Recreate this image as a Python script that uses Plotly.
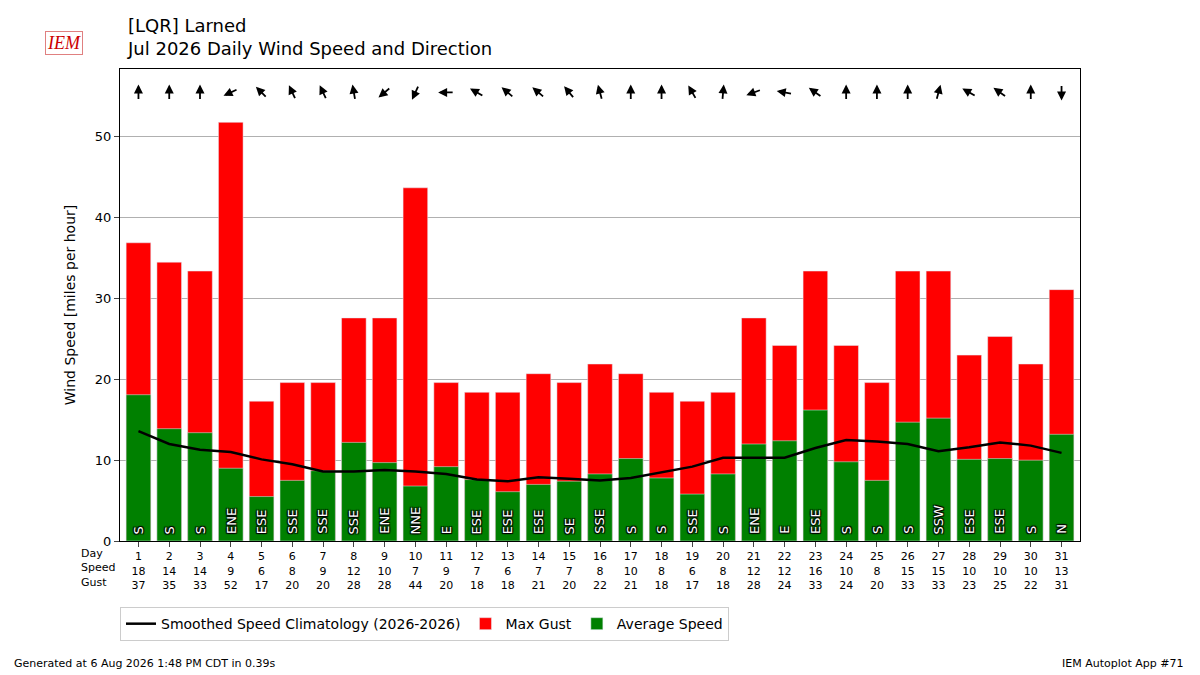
import math
import plotly.graph_objects as go

days = list(range(1, 32))
avg_speed = [18.1, 13.9, 13.4, 9.0, 5.5, 7.5, 8.7, 12.2, 9.7, 6.8, 9.2, 7.6, 6.1, 7.0, 7.4, 8.3,
             10.2, 7.8, 5.8, 8.3, 12.0, 12.4, 16.2, 9.8, 7.5, 14.7, 15.2, 10.1, 10.2, 10.0, 13.2]
max_gust = [36.9, 34.5, 33.4, 51.8, 17.3, 19.6, 19.6, 27.6, 27.6, 43.7, 19.6, 18.4, 18.4, 20.7, 19.6, 21.9,
            20.7, 18.4, 17.3, 18.4, 27.6, 24.2, 33.4, 24.2, 19.6, 33.4, 33.4, 23.0, 25.3, 21.9, 31.1]
climo = [13.6, 12.0, 11.3, 11.0, 10.1, 9.5, 8.6, 8.6, 8.8, 8.6, 8.3, 7.6, 7.4, 7.9, 7.7, 7.5,
         7.8, 8.5, 9.2, 10.3, 10.3, 10.3, 11.5, 12.5, 12.3, 12.0, 11.1, 11.6, 12.2, 11.8, 10.9]
dir_label = ["S", "S", "S", "ENE", "ESE", "SSE", "SSE", "SSE", "ENE", "NNE", "E", "ESE", "ESE", "ESE", "SE", "SSE",
             "S", "S", "SSE", "S", "ENE", "E", "ESE", "S", "S", "S", "SSW", "ESE", "ESE", "S", "N"]
dir_deg = [180, 180, 180, 65, 135, 155, 155, 170, 50, 25, 90, 120, 130, 130, 140, 165,
           180, 180, 150, 185, 70, 100, 125, 180, 180, 180, 195, 120, 125, 180, 0]
speed_lbl = [18, 14, 14, 9, 6, 8, 9, 12, 10, 7, 9, 7, 6, 7, 7, 8, 10, 8, 6, 8, 12, 12, 16, 10, 8, 15, 15, 10, 10, 10, 13]
gust_lbl = [37, 35, 33, 52, 17, 20, 20, 28, 28, 44, 20, 18, 18, 21, 20, 22, 21, 18, 17, 18, 28, 24, 33, 24, 20, 33, 33, 23, 25, 22, 31]

fig = go.Figure()
fig.add_trace(go.Bar(x=days, y=max_gust, marker_color="#ff0000", name="Max Gust", width=0.8, legendrank=2))
fig.add_trace(go.Bar(x=days, y=avg_speed, marker_color="#008000", name="Average Speed", width=0.8, legendrank=3))
fig.add_trace(go.Scatter(x=days, y=climo, mode="lines", line=dict(color="black", width=2.5), legendrank=1,
                         name="Smoothed Speed Climatology (2026-2026)"))

# direction arrows (pointing where the wind blows to), centred on y=55.5
for d, deg, lab in zip(days, dir_deg, dir_label):
    to = math.radians(deg + 180)
    ux, uy = math.sin(to), -math.cos(to)
    fig.add_annotation(x=d, y=55.5, ax=-16 * ux, ay=-16 * uy, xref="x", yref="y",
                       xshift=8 * ux, yshift=-8 * uy,
                       text="", showarrow=True, arrowhead=2, arrowsize=1, arrowwidth=1.8,
                       arrowcolor="black", standoff=0)
    fig.add_annotation(x=d, y=0.6, text=lab, textangle=-90, yanchor="bottom", showarrow=False,
                       font=dict(size=13, color="white", family="DejaVu Sans",
                                 shadow="1px 1px 1px black, -1px -1px 1px black, 1px -1px 1px black, -1px 1px 1px black"))

fig.add_annotation(x=-0.003, y=-0.008, xref="paper", yref="paper", xanchor="right", yanchor="top",
                   text="Day<br>Speed<br>Gust", align="left", showarrow=False,
                   font=dict(size=11, family="DejaVu Sans"))

fig.update_layout(
    width=1200, height=675, barmode="overlay", plot_bgcolor="white", paper_bgcolor="white",
    font=dict(family="DejaVu Sans", size=12, color="black"),
    margin=dict(l=112, r=128, t=61, b=142),
    title=dict(text="[LQR] Larned<br>Jul 2026 Daily Wind Speed and Direction", x=0.1, y=0.965,
               xanchor="left", yanchor="top", font=dict(size=18)),
    legend=dict(orientation="h", x=0.0, y=-0.14, xanchor="left", yanchor="top",
                bordercolor="#cccccc", borderwidth=1, font=dict(size=14)),
    xaxis=dict(range=[0.4, 31.6], tickvals=days,
               ticktext=[f"{d}<br>{s}<br>{g}" for d, s, g in zip(days, speed_lbl, gust_lbl)],
               tickfont=dict(size=11), showline=True, linecolor="black", mirror=True, ticks="outside",
               showgrid=False),
    yaxis=dict(range=[0, 58.4], dtick=10, title="Wind Speed [miles per hour]", showline=True,
               linecolor="black", mirror=True, ticks="outside", gridcolor="#b0b0b0", tickfont=dict(size=13)),
)
fig.add_annotation(x=-0.1125, y=-0.26, xref="paper", yref="paper", xanchor="left", yanchor="middle",
                   text="Generated at 6 Aug 2026 1:48 PM CDT in 0.39s", showarrow=False, font=dict(size=11))
fig.add_annotation(x=1.11, y=-0.26, xref="paper", yref="paper", xanchor="right", yanchor="middle",
                   text="IEM Autoplot App #71", showarrow=False, font=dict(size=11))
fig.add_annotation(x=-0.078, y=1.08, xref="paper", yref="paper", text="<i>IEM</i>", showarrow=False,
                   bordercolor="#e08080", borderwidth=1,
                   font=dict(size=18, color="#cc0000", family="Liberation Serif"))
fig.write_html("out.html")
